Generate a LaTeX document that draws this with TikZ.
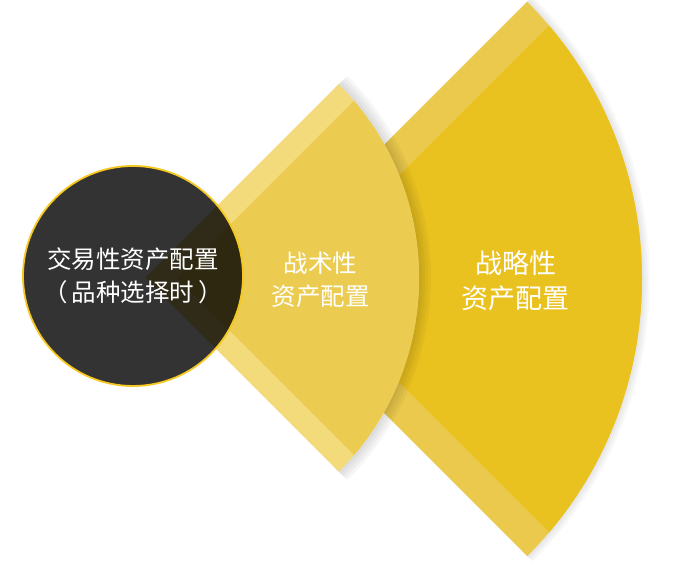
\documentclass[tikz,border=0pt]{standalone}
\usepackage{fontspec}
\newfontfamily\cjk{Noto Sans CJK SC}
\usetikzlibrary{calc}
\definecolor{dabian}{HTML}{EBC94C}
\definecolor{danei}{HTML}{EAC220}
\definecolor{xiaobian}{HTML}{F3DB7B}
\definecolor{xiaonei}{HTML}{EBCC50}
\definecolor{jinbian}{HTML}{F6C71E}
\begin{document}
\begin{tikzpicture}[x=1pt,y=1pt,
	wenzi/.style={font=\cjk\fontsize{24.5}{33}\selectfont, text=white, align=center},
	dazi/.style={wenzi, font=\cjk\fontsize{27}{35}\selectfont},
	yinying/.style={black, opacity=#1}]
	\useasboundingbox (0,0) rectangle (677,569);
	\coordinate (o2) at (250,290); % 大扇形顶点
	\coordinate (o1) at (145,291); % 小扇形顶点
	\def\rb{392}
	\def\rs{274}
	%% 大扇形
	\foreach \w in {4,8,12,16}
		\draw[yinying=0.025, line width=\w pt] ($(o2)+(45:\rb)$) arc[start angle=45, end angle=-45, radius=\rb];
	\fill[dabian] (o2) -- ++(45:\rb) arc[start angle=45, end angle=-45, radius=\rb] -- cycle;
	\begin{scope}
		\clip (o2) circle (\rb);
		\fill[danei] ($(o2)+(46,0)$) -- ++(\rb,\rb) -- ++(0,-2*\rb) -- cycle;
	\end{scope}
	%% 小扇形
	\foreach \w in {6,12,18,24}
		\draw[yinying=0.035, line width=\w pt] ($(o1)+(45:\rs)$) arc[start angle=45, end angle=-45, radius=\rs];
	\fill[xiaobian] (o1) -- ++(45:\rs) arc[start angle=45, end angle=-45, radius=\rs] -- cycle;
	\begin{scope}
		\clip (o1) circle (\rs);
		\fill[xiaonei] ($(o1)+(32,0)$) -- ++(\rs,\rs) -- ++(0,-2*\rs) -- cycle;
	\end{scope}
	%% 圆
	\node[wenzi, circle, minimum size=220, fill=black, fill opacity=0.8, text opacity=1,
		draw=jinbian, draw opacity=1, line width=1.8pt] (jy) at (133,293)
		{交易性资产配置\\（\,品种选择时\,）};
	% 文字
	\node[wenzi] (zs) at (320.5,289.5) {战术性\\资产配置};
	\node[dazi] (zl) at (515.5,288.5) {战略性\\资产配置};
\end{tikzpicture}
\end{document}
